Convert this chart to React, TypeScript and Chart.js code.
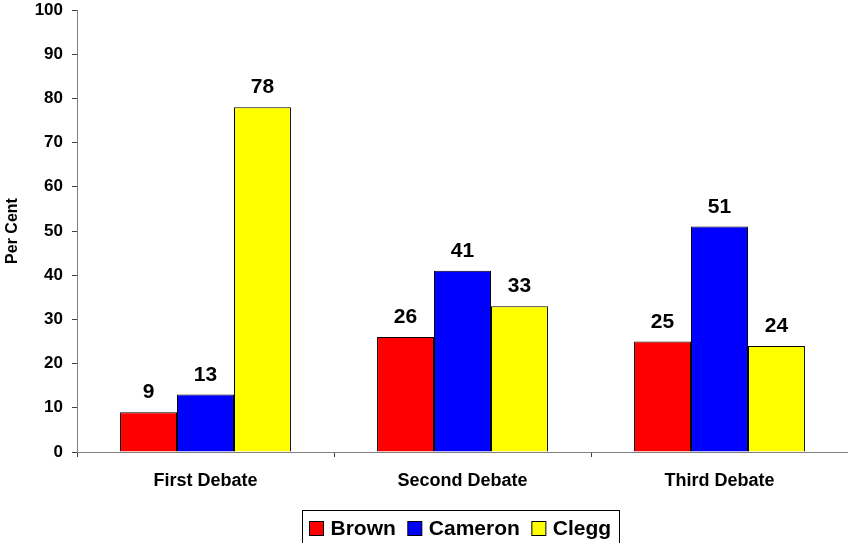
import React, { useEffect, useRef } from "react";
import { Chart, registerables } from "chart.js";

Chart.register(...registerables);

const categories = ["First Debate", "Second Debate", "Third Debate"];
const seriesNames = ["Brown", "Cameron", "Clegg"];
const brownValues = [9, 26, 25];
const cameronValues = [13, 41, 51];
const cleggValues = [78, 33, 24];
const seriesColors = ["#FF0000", "#0000FF", "#FFFF00"];
const yMin = 0;
const yMax = 100;
const yStep = 10;
const yTitle = "Per Cent";

const FONT = 'Arial, "Liberation Sans", Helvetica, sans-serif';

// Numbers written above each bar
const valueLabels = {
  id: "valueLabels",
  afterDatasetsDraw(chart: any) {
    const ctx = chart.ctx;
    ctx.save();
    ctx.font = `bold 21px ${FONT}`;
    ctx.fillStyle = "#000";
    ctx.textAlign = "center";
    ctx.textBaseline = "alphabetic";
    chart.data.datasets.forEach((ds: any, i: number) => {
      const meta = chart.getDatasetMeta(i);
      meta.data.forEach((bar: any, j: number) => {
        ctx.fillText(String(ds.data[j]), bar.x, bar.y - 14);
      });
    });
    ctx.restore();
  },
};

// Boxed legend centred under the plot area
const boxedLegend = {
  id: "boxedLegend",
  afterDraw(chart: any) {
    const ctx = chart.ctx;
    const area = chart.chartArea;
    ctx.save();
    ctx.font = `bold 21px ${FONT}`;
    const sw = 14;
    const padL = 7;
    const padR = 8;
    const gapText = 7;
    const gapItem = 12;
    const items = chart.data.datasets.map((ds: any) => ({
      label: ds.label,
      color: ds.backgroundColor,
      w: ctx.measureText(ds.label).width,
    }));
    let total = padL + padR;
    items.forEach((it: any, i: number) => {
      total += sw + gapText + it.w + (i < items.length - 1 ? gapItem : 0);
    });
    const boxTop = 510;
    const boxH = 36;
    const left = Math.round((area.left + area.right) / 2 - 2 - total / 2) + 0.5;
    ctx.strokeStyle = "#000";
    ctx.lineWidth = 1;
    ctx.strokeRect(left, boxTop + 0.5, Math.round(total), boxH);
    let x = left + padL;
    const baseline = 535;
    items.forEach((it: any) => {
      ctx.fillStyle = it.color;
      ctx.fillRect(x, 521.5, sw, sw);
      ctx.strokeStyle = "#000";
      ctx.strokeRect(x, 521.5, sw, sw);
      x += sw + gapText;
      ctx.fillStyle = "#000";
      ctx.textAlign = "left";
      ctx.textBaseline = "alphabetic";
      ctx.fillText(it.label, x, baseline);
      x += it.w + gapItem;
    });
    ctx.restore();
  },
};

export default function App() {
  const canvasRef = useRef<HTMLCanvasElement | null>(null);

  useEffect(() => {
    const canvas = canvasRef.current;
    if (!canvas) return;
    const seriesValues = [brownValues, cameronValues, cleggValues];
    const chart = new Chart(canvas, {
      type: "bar",
      data: {
        labels: categories,
        datasets: seriesNames.map((name, i) => ({
          label: name,
          data: seriesValues[i],
          backgroundColor: seriesColors[i],
          borderColor: "#000",
          borderWidth: 1,
          categoryPercentage: 0.665,
          barPercentage: 1,
        })),
      },
      options: {
        responsive: false,
        animation: false,
        devicePixelRatio: 1,
        layout: { padding: { top: 10, left: 0, right: 0, bottom: 0 } },
        plugins: {
          legend: { display: false },
          tooltip: { enabled: false },
        },
        scales: {
          x: {
            grid: {
              display: true,
              drawOnChartArea: false,
              drawTicks: true,
              tickLength: 5,
              color: "#404040",
              offset: true,
            },
            border: { display: true, color: "#808080", width: 1 },
            ticks: {
              color: "#000",
              padding: 13,
              maxRotation: 0,
              font: { family: FONT, size: 18, weight: "bold" },
            },
            afterFit: (scale: any) => {
              scale.height = 91;
              scale.paddingLeft = 0;
              scale.paddingRight = 0;
            },
          },
          y: {
            min: yMin,
            max: yMax,
            grid: {
              display: true,
              drawOnChartArea: false,
              drawTicks: true,
              tickLength: 5,
              color: "#404040",
            },
            border: { display: true, color: "#808080", width: 1 },
            ticks: {
              stepSize: yStep,
              color: "#000",
              padding: 9,
              font: { family: FONT, size: 17, weight: "bold" },
            },
            title: {
              display: true,
              text: yTitle,
              color: "#000",
              padding: { top: 3, bottom: 0 },
              font: { family: FONT, size: 16, weight: "bold" },
            },
            afterFit: (scale: any) => {
              scale.width = 77;
              scale.paddingTop = 0;
              scale.paddingBottom = 0;
            },
          },
        },
      },
      plugins: [valueLabels, boxedLegend],
    });
    return () => chart.destroy();
  }, []);

  return (
    <div style={{ position: "absolute", left: 0, top: 0, width: 848, height: 543, background: "#fff" }}>
      <canvas ref={canvasRef} width={848} height={543} />
    </div>
  );
}
